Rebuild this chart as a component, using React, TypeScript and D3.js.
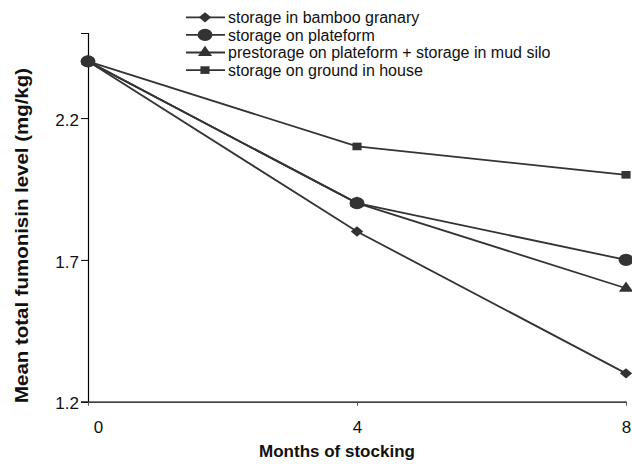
import * as d3 from 'd3';
import React, { useRef, useEffect } from 'react';

const months = [0, 4, 8];
const seriesNames = [
  'storage in bamboo granary',
  'storage on plateform',
  'prestorage on plateform + storage in mud silo',
  'storage on ground in house',
];
const bamboo = [2.4, 1.8, 1.3];
const plateform = [2.4, 1.9, 1.7];
const mudSilo = [2.4, 1.9, 1.6];
const ground = [2.4, 2.1, 2.0];
const yTicks = [1.2, 1.7, 2.2];
const xTicks = [0, 4, 8];

const FONT = "'Liberation Sans', Arial, Helvetica, sans-serif";
const INK = '#333333';

const App = () => {
  const ref = useRef(null);
  const width = 632;
  const height = 464;

  useEffect(() => {
    const svg = d3.select(ref.current);
    svg.selectAll('*').remove();

    const x = d3.scaleLinear().domain([0, 8]).range([88, 626]);
    const y = d3.scaleLinear().domain([1.2, 2.5]).range([401.7, 33]);

    const series = [bamboo, plateform, mudSilo, ground];
    const shapes = [d3.symbolDiamond2, d3.symbolCircle, d3.symbolTriangle, d3.symbolSquare];
    const sizes = [68, 120, 60, 58];

    // axes
    const yAxis = d3.axisLeft(y).tickValues(yTicks).tickSize(7).tickFormat(d3.format('.1f'));
    const gy = svg.append('g').attr('transform', 'translate(88,0)').call(yAxis);
    gy.select('.domain').attr('stroke', '#000').attr('stroke-width', 1.2);
    gy.selectAll('.tick line').attr('stroke', '#000');
    gy.selectAll('.tick text')
      .attr('font-family', FONT).attr('font-size', 17).attr('fill', '#111')
      .attr('x', -9).attr('dy', '0.42em');

    const xAxis = d3.axisBottom(x).tickValues(xTicks).tickSize(4).tickSizeOuter(0).tickFormat(d3.format('d'));
    const gx = svg.append('g').attr('transform', 'translate(0,401.7)').call(xAxis);
    gx.select('.domain').attr('stroke', '#000').attr('stroke-width', 1.2);
    gx.selectAll('.tick line').attr('stroke', '#555');
    gx.selectAll('.tick text')
      .attr('font-family', FONT).attr('font-size', 17).attr('fill', '#111')
      .attr('y', 31).attr('dy', 0)
      .attr('dx', (d) => (d === 0 ? 10 : 0));

    // axis titles
    svg.append('text')
      .attr('x', 337).attr('y', 457)
      .attr('text-anchor', 'middle')
      .attr('font-family', FONT).attr('font-size', 17).attr('font-weight', 'bold')
      .attr('fill', '#111')
      .text('Months of stocking');

    svg.append('text')
      .attr('transform', 'translate(28,235.5) rotate(-90)')
      .attr('text-anchor', 'middle')
      .attr('font-family', FONT).attr('font-size', 19).attr('font-weight', 'bold')
      .attr('fill', '#111')
      .attr('textLength', 335).attr('lengthAdjust', 'spacingAndGlyphs')
      .text('Mean total fumonisin level (mg/kg)');

    // lines
    const line = d3.line().x((d, i) => x(months[i])).y((d) => y(d));
    series.forEach((s) => {
      svg.append('path')
        .datum(s)
        .attr('d', line)
        .attr('fill', 'none')
        .attr('stroke', INK)
        .attr('stroke-width', 1.8);
    });

    // markers
    series.forEach((s, k) => {
      const sym = d3.symbol().type(shapes[k]).size(sizes[k]);
      svg.append('g').selectAll('path')
        .data(s)
        .enter()
        .append('path')
        .attr('d', sym)
        .attr('fill', INK)
        .attr('transform', (d, i) => `translate(${x(months[i])},${y(d)}) scale(1.2,1)`);
    });

    // legend
    const lg = svg.append('g');
    seriesNames.forEach((name, k) => {
      const cy = 17.3 + k * 17.6;
      lg.append('line')
        .attr('x1', 186).attr('x2', 225).attr('y1', cy).attr('y2', cy)
        .attr('stroke', INK).attr('stroke-width', 1.8);
      lg.append('path')
        .attr('d', d3.symbol().type(shapes[k]).size(sizes[k])())
        .attr('fill', INK)
        .attr('transform', `translate(205,${cy}) scale(1.2,1)`);
      lg.append('text')
        .attr('x', 228).attr('y', cy + 5.6)
        .attr('font-family', FONT).attr('font-size', 16).attr('fill', '#111')
        .text(name);
    });
  }, []);

  return (
    <svg
      ref={ref}
      width={width}
      height={height}
      style={{ position: 'absolute', left: 0, top: 0, background: '#fff' }}
    />
  );
};

export default App;
